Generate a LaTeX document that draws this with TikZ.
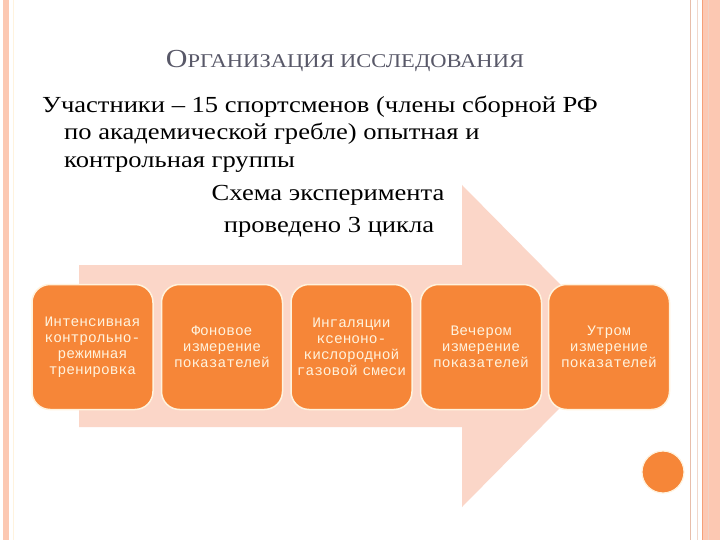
\documentclass[tikz,border=0pt]{standalone}
\usepackage{fontspec}
\setmainfont[FakeStretch=1.155]{Liberation Serif}
\newfontfamily\boxfont{Liberation Mono}
\definecolor{framepeach}{RGB}{252,200,178}
\definecolor{frameline}{RGB}{232,190,170}
\definecolor{frameorange}{RGB}{245,160,120}
\definecolor{arrowpink}{RGB}{251,214,200}
\definecolor{steporange}{RGB}{246,134,56}
\definecolor{stepcream}{RGB}{255,243,222}
\definecolor{titlegrey}{RGB}{88,88,104}
\tikzset{
	stepbox/.style={draw=stepcream, line width=1.5pt, fill=steporange, rounded corners=18pt,
		minimum width=121pt, minimum height=125pt, text width=117pt, align=center,
		text=stepcream, font=\boxfont\fontsize{14.5}{16}\selectfont, inner sep=0pt},
	bodytext/.style={anchor=base west, inner sep=0pt, font=\fontsize{23}{28}\selectfont}
}
\begin{document}
\begin{tikzpicture}[x=1pt,y=-1pt]
	\useasboundingbox (0,0) rectangle (720,540);
	\fill[white] (0,0) rectangle (720,540);
	% frame
	\fill[framepeach] (3,0) rectangle (9,540);
	\draw[stepcream, line width=1.2pt] (13.5,0) -- (13.5,540);
	\draw[frameline, line width=1pt] (690,0) -- (690,540);
	\draw[frameline!60, line width=0.8pt] (697,0) -- (697,540);
	\fill[framepeach] (702,0) rectangle (720,540);
	\draw[frameorange, line width=1pt] (702.5,0) -- (702.5,540);
	\draw[frameline!70, line width=0.6pt] (708,0) -- (708,540);
	% arrow
	\fill[arrowpink] (79,265) -- ++(383,0) -- ++(0,-80) -- (621,346) -- (462,507) -- ++(0,-80) -- (79,427) -- cycle;
	% texts
	\node[anchor=base, inner sep=0pt, text=titlegrey] (title) at (345,68)
		{\fontsize{26}{30}\selectfont О\fontsize{19.5}{22}\selectfont РГАНИЗАЦИЯ ИССЛЕДОВАНИЯ};
	\node[bodytext] (L1) at (42,113) {Участники -- 15 спортсменов (члены сборной РФ};
	\node[bodytext] (L2) at (64,140) {по академической гребле) опытная и};
	\node[bodytext] (L3) at (64,168) {контрольная группы};
	\node[bodytext, anchor=base] (L4) at (328,201) {Схема эксперимента};
	\node[bodytext, anchor=base] (L5) at (329,233) {проведено 3 цикла};
	% steps
	\node[stepbox] (S1) at (92.5,347) {Интенсивная контрольно-\\режимная тренировка};
	\node[stepbox] (S2) at (222,347) {Фоновое\\измерение\\показателей};
	\node[stepbox] (S3) at (351.5,347) {Ингаляции\\ксеноно-\\кислородной газовой смеси};
	\node[stepbox] (S4) at (481,347) {Вечером\\измерение\\показателей};
	\node[stepbox] (S5) at (609,347) {Утром\\измерение\\показателей};
	\draw[stepcream, line width=1.2pt, fill=steporange] (663,472) circle (21);
\end{tikzpicture}
\end{document}
